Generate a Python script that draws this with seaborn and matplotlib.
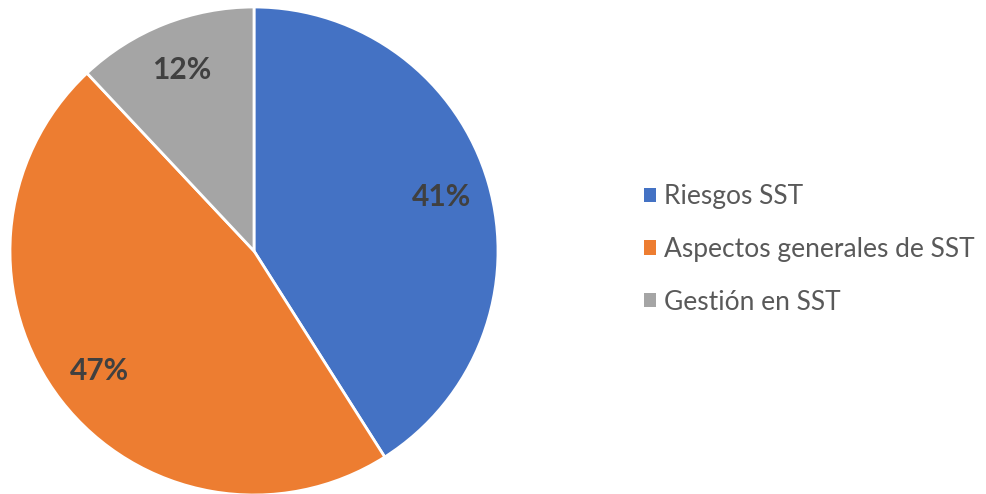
import matplotlib
matplotlib.use("Agg")
import matplotlib.pyplot as plt
import seaborn as sns
from matplotlib.patches import Patch

categories = ["Riesgos SST", "Aspectos generales de SST", "Gestión en SST"]
values = [41, 47, 12]
colors = ["#4472C4", "#ED7D31", "#A5A5A5"]

sns.set_theme(style="white")
plt.rcParams['font.family'] = ['Lato', 'DejaVu Sans']

fig = plt.figure(figsize=(9.86, 4.94), dpi=100)
ax = fig.add_axes([10 / 986, -1 / 494, 488 / 986, 488 / 494])

wedges, texts, autotexts = ax.pie(
    values, colors=colors, startangle=90, counterclock=False,
    autopct="%d%%", pctdistance=0.8,
    wedgeprops=dict(edgecolor="white", linewidth=2),
    textprops=dict(fontsize=21.5, fontweight="bold", color="#404040"),
)
ax.set_xlim(-1, 1)
ax.set_ylim(-1, 1)
ax.set_aspect("equal")
ax.axis("off")

handles = [Patch(facecolor=c, edgecolor="none") for c in colors]
fig.legend(handles, categories, loc="center left", bbox_to_anchor=(620 / 986, 0.495),
           frameon=False, fontsize=19, labelcolor="#595959",
           handlelength=0.45, handleheight=0.45, handletextpad=0.3, labelspacing=1.05)

fig.savefig("out.png", dpi=100, facecolor="white")
